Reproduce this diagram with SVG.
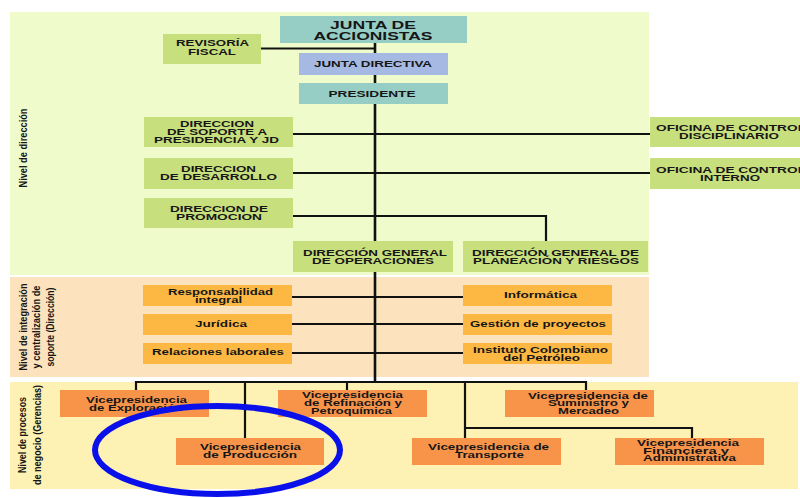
<svg xmlns="http://www.w3.org/2000/svg" width="800" height="498" viewBox="0 0 800 498">
  <style>
    .band-dir { fill: #f0fbcc; }
    .band-sup { fill: #fde3bd; }
    .band-neg { fill: #fdf1b3; }
    .n-green { fill: #c8df7d; }
    .n-teal { fill: #96cec6; }
    .n-blue { fill: #a6b9e2; }
    .n-amber { fill: #fdb843; }
    .n-orange { fill: #f7944a; }
    text { font-family: "Liberation Sans", Arial, sans-serif; font-weight: bold; fill: #161616; text-anchor: middle; }
    .t9 { font-size: 8.5px; }
    .t11 { font-size: 11px; }
    .lvl { font-size: 11px; }
    .wire { stroke: #111; stroke-width: 2.2; fill: none; }
    .trunk { stroke: #111; stroke-width: 2.6; fill: none; }
    .mark { fill: none; stroke: #0a10ea; stroke-width: 6; }
  </style>

  <rect width="800" height="498" fill="#ffffff"/>

  <!-- level bands -->
  <g id="bands">
    <rect class="band-dir" x="10" y="12" width="639" height="263"/>
    <rect class="band-sup" x="10" y="277" width="639" height="100"/>
    <rect class="band-neg" x="10" y="382" width="788" height="107"/>
  </g>

  <!-- level labels -->
  <g id="level-labels">
    <text class="lvl" transform="translate(27,148) rotate(-90)" textLength="79" lengthAdjust="spacingAndGlyphs">Nivel de dirección</text>
    <text class="lvl" transform="translate(26.5,327) rotate(-90)" textLength="87" lengthAdjust="spacingAndGlyphs">Nivel de integración</text>
    <text class="lvl" transform="translate(40,327) rotate(-90)" textLength="83" lengthAdjust="spacingAndGlyphs">y centralización de</text>
    <text class="lvl" transform="translate(53.5,327) rotate(-90)" textLength="79" lengthAdjust="spacingAndGlyphs">soporte (Dirección)</text>
    <text class="lvl" transform="translate(26,435) rotate(-90)" textLength="76" lengthAdjust="spacingAndGlyphs">Nivel de procesos</text>
    <text class="lvl" transform="translate(40.5,435) rotate(-90)" textLength="100" lengthAdjust="spacingAndGlyphs">de negocio (Gerencias)</text>
  </g>

  <!-- connectors -->
  <g id="connectors">
    <path class="trunk" d="M375,43 V382"/>
    <path class="wire" d="M261,48.5 H375"/>
    <path class="wire" d="M293,134 H650"/>
    <path class="wire" d="M293,173 H650"/>
    <path class="wire" d="M293,216 H546 V241"/>
    <path class="wire" d="M292,297 H463"/>
    <path class="wire" d="M292,324 H463"/>
    <path class="wire" d="M292,353 H463"/>
    <path class="wire" d="M136,390 V382 H586 V390"/>
    <path class="wire" d="M245,382 V438"/>
    <path class="wire" d="M347,382 V390"/>
    <path class="wire" d="M465,382 V438"/>
    <path class="wire" d="M465,428 H692 V438"/>
  </g>

  <!-- governance -->
  <g id="junta-accionistas">
    <rect class="n-teal" x="280" y="16" width="187" height="27"/>
    <text class="t11" x="373" y="28.5" textLength="86" lengthAdjust="spacingAndGlyphs">JUNTA DE</text>
    <text class="t11" x="373" y="40" textLength="119" lengthAdjust="spacingAndGlyphs">ACCIONISTAS</text>
  </g>
  <g id="revisoria-fiscal">
    <rect class="n-green" x="163" y="34" width="98" height="30"/>
    <text class="t9" x="212.5" y="46" textLength="73" lengthAdjust="spacingAndGlyphs">REVISORÍA</text>
    <text class="t9" x="212" y="55" textLength="48" lengthAdjust="spacingAndGlyphs">FISCAL</text>
  </g>
  <g id="junta-directiva">
    <rect class="n-blue" x="299" y="53" width="149" height="22"/>
    <text class="t9" x="373" y="66.5" textLength="118" lengthAdjust="spacingAndGlyphs">JUNTA DIRECTIVA</text>
  </g>
  <g id="presidente">
    <rect class="n-teal" x="299" y="83" width="149" height="21"/>
    <text class="t9" x="372" y="96.5" textLength="87" lengthAdjust="spacingAndGlyphs">PRESIDENTE</text>
  </g>

  <!-- direcciones -->
  <g id="dir-soporte">
    <rect class="n-green" x="144" y="117" width="149" height="30"/>
    <text class="t9" x="217" y="127.3" textLength="74" lengthAdjust="spacingAndGlyphs">DIRECCION</text>
    <text class="t9" x="217" y="135" textLength="100" lengthAdjust="spacingAndGlyphs">DE SOPORTE A</text>
    <text class="t9" x="216.5" y="142.7" textLength="125" lengthAdjust="spacingAndGlyphs">PRESIDENCIA Y JD</text>
  </g>
  <g id="dir-desarrollo">
    <rect class="n-green" x="144" y="158" width="149" height="31"/>
    <text class="t9" x="218.5" y="172.3" textLength="75" lengthAdjust="spacingAndGlyphs">DIRECCION</text>
    <text class="t9" x="218.5" y="180.3" textLength="117" lengthAdjust="spacingAndGlyphs">DE DESARROLLO</text>
  </g>
  <g id="dir-promocion">
    <rect class="n-green" x="144" y="198" width="149" height="30"/>
    <text class="t9" x="219" y="212" textLength="98" lengthAdjust="spacingAndGlyphs">DIRECCION DE</text>
    <text class="t9" x="219" y="220.3" textLength="86" lengthAdjust="spacingAndGlyphs">PROMOCION</text>
  </g>
  <g id="dg-operaciones">
    <rect class="n-green" x="293" y="241" width="160" height="31"/>
    <text class="t9" x="375" y="256.2" textLength="144" lengthAdjust="spacingAndGlyphs">DIRECCIÓN GENERAL</text>
    <text class="t9" x="373" y="264" textLength="122" lengthAdjust="spacingAndGlyphs">DE OPERACIONES</text>
  </g>
  <g id="dg-planeacion">
    <rect class="n-green" x="463" y="241" width="185" height="31"/>
    <text class="t9" x="555.5" y="256.2" textLength="167" lengthAdjust="spacingAndGlyphs">DIRECCIÓN GENERAL DE</text>
    <text class="t9" x="556" y="264" textLength="166" lengthAdjust="spacingAndGlyphs">PLANEACIÓN Y RIESGOS</text>
  </g>
  <g id="oficina-disciplinario">
    <rect class="n-green" x="650" y="117" width="160" height="30"/>
    <text class="t9" x="731" y="131.3" textLength="150" lengthAdjust="spacingAndGlyphs">OFICINA DE CONTROL</text>
    <text class="t9" x="729" y="139.3" textLength="100" lengthAdjust="spacingAndGlyphs">DISCIPLINARIO</text>
  </g>
  <g id="oficina-interno">
    <rect class="n-green" x="650" y="158" width="160" height="31"/>
    <text class="t9" x="731" y="172.9" textLength="150" lengthAdjust="spacingAndGlyphs">OFICINA DE CONTROL</text>
    <text class="t9" x="730" y="180.7" textLength="60" lengthAdjust="spacingAndGlyphs">INTERNO</text>
  </g>

  <!-- support units -->
  <g id="responsabilidad-integral">
    <rect class="n-amber" x="143" y="285" width="149" height="21"/>
    <text class="t9" x="220.5" y="294.7" textLength="105" lengthAdjust="spacingAndGlyphs">Responsabilidad</text>
    <text class="t9" x="218.5" y="303" textLength="47" lengthAdjust="spacingAndGlyphs">integral</text>
  </g>
  <g id="juridica">
    <rect class="n-amber" x="143" y="314" width="149" height="21"/>
    <text class="t9" x="221" y="327.3" textLength="52" lengthAdjust="spacingAndGlyphs">Jurídica</text>
  </g>
  <g id="relaciones-laborales">
    <rect class="n-amber" x="143" y="343" width="149" height="21"/>
    <text class="t9" x="218" y="355.3" textLength="132" lengthAdjust="spacingAndGlyphs">Relaciones laborales</text>
  </g>
  <g id="informatica">
    <rect class="n-amber" x="463" y="285" width="149" height="21"/>
    <text class="t9" x="540.5" y="298.3" textLength="73" lengthAdjust="spacingAndGlyphs">Informática</text>
  </g>
  <g id="gestion-proyectos">
    <rect class="n-amber" x="463" y="314" width="149" height="21"/>
    <text class="t9" x="538" y="326.7" textLength="136" lengthAdjust="spacingAndGlyphs">Gestión de proyectos</text>
  </g>
  <g id="icp">
    <rect class="n-amber" x="463" y="343" width="149" height="21"/>
    <text class="t9" x="540.5" y="353" textLength="135" lengthAdjust="spacingAndGlyphs">Instituto Colombiano</text>
    <text class="t9" x="541.5" y="361" textLength="77" lengthAdjust="spacingAndGlyphs">del Petróleo</text>
  </g>

  <!-- vicepresidencias -->
  <g id="vp-exploracion">
    <rect class="n-orange" x="60" y="390" width="149" height="27"/>
    <text class="t9" x="136.5" y="403" textLength="101" lengthAdjust="spacingAndGlyphs">Vicepresidencia</text>
    <text class="t9" x="136" y="411" textLength="94" lengthAdjust="spacingAndGlyphs">de Exploración</text>
  </g>
  <g id="vp-refinacion">
    <rect class="n-orange" x="278" y="390" width="149" height="27"/>
    <text class="t9" x="352.5" y="398" textLength="101" lengthAdjust="spacingAndGlyphs">Vicepresidencia</text>
    <text class="t9" x="353" y="405.8" textLength="98" lengthAdjust="spacingAndGlyphs">de Refinación y</text>
    <text class="t9" x="351.5" y="413.6" textLength="81" lengthAdjust="spacingAndGlyphs">Petroquímica</text>
  </g>
  <g id="vp-suministro">
    <rect class="n-orange" x="505" y="390" width="149" height="27"/>
    <text class="t9" x="588" y="398.6" textLength="120" lengthAdjust="spacingAndGlyphs">Vicepresidencia de</text>
    <text class="t9" x="588.5" y="406.2" textLength="81" lengthAdjust="spacingAndGlyphs">Suministro y</text>
    <text class="t9" x="588.5" y="413.8" textLength="61" lengthAdjust="spacingAndGlyphs">Mercadeo</text>
  </g>
  <g id="vp-produccion">
    <rect class="n-orange" x="176" y="438" width="148" height="27"/>
    <text class="t9" x="250.5" y="450.3" textLength="101" lengthAdjust="spacingAndGlyphs">Vicepresidencia</text>
    <text class="t9" x="250" y="458" textLength="94" lengthAdjust="spacingAndGlyphs">de Producción</text>
  </g>
  <g id="vp-transporte">
    <rect class="n-orange" x="412" y="438" width="149" height="27"/>
    <text class="t9" x="488.5" y="450.3" textLength="121" lengthAdjust="spacingAndGlyphs">Vicepresidencia de</text>
    <text class="t9" x="489.5" y="458" textLength="69" lengthAdjust="spacingAndGlyphs">Transporte</text>
  </g>
  <g id="vp-financiera">
    <rect class="n-orange" x="615" y="438" width="149" height="27"/>
    <text class="t9" x="688" y="446" textLength="102" lengthAdjust="spacingAndGlyphs">Vicepresidencia</text>
    <text class="t9" x="686" y="453.7" textLength="86" lengthAdjust="spacingAndGlyphs">Financiera y</text>
    <text class="t9" x="689.5" y="461.2" textLength="93" lengthAdjust="spacingAndGlyphs">Administrativa</text>
  </g>

  <!-- highlight ring around production -->
  <ellipse id="highlight" class="mark" cx="217.5" cy="450" rx="122.5" ry="44"/>
</svg>
